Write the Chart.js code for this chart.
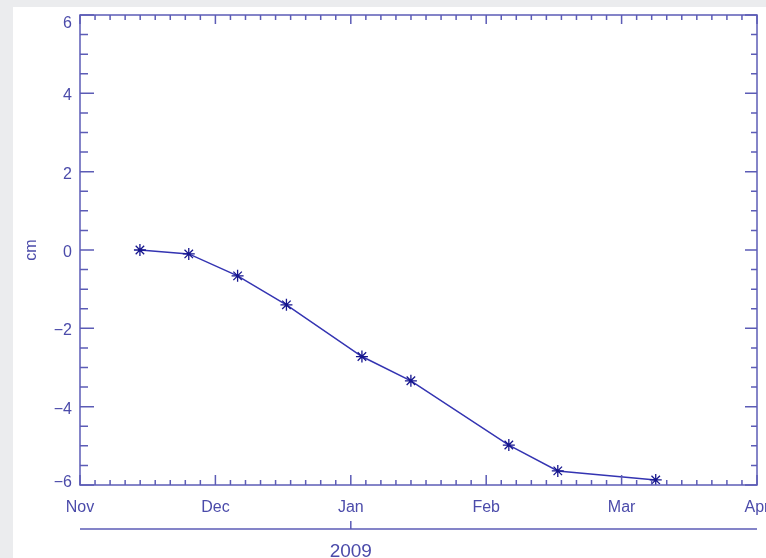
<!DOCTYPE html>
<html>
<head>
<meta charset="utf-8">
<script src="https://cdn.jsdelivr.net/npm/chart.js@4/dist/chart.umd.min.js"></script>
<style>
  html, body { margin: 0; padding: 0; background: #ebecee; width: 766px; height: 558px; overflow: hidden; }
  #frame { position: absolute; left: 13px; top: 7px; width: 753px; height: 551px; background: #ffffff; }
  canvas { display: block; }
</style>
</head>
<body>
<div id="frame"><canvas id="chart" width="753" height="551"></canvas></div>
<script>
// Observation dates and cumulative displacement (cm)
const obsDates = ['2008-11-14', '2008-11-25', '2008-12-06', '2008-12-17', '2009-01-03',
                  '2009-01-14', '2009-02-05', '2009-02-16', '2009-03-10'];
const displacementCm = [0.0, -0.10, -0.66, -1.40, -2.72, -3.34, -4.98, -5.64, -5.87];

// Axis ticks
const monthTicks = ['2008-11', '2008-12', '2009-01', '2009-02', '2009-03', '2009-04'];
const monthLabels = ['Nov', 'Dec', 'Jan', 'Feb', 'Mar', 'Apr'];
const yearTicks = [2009];
const yearLabels = ['2009'];
const yTicks = [-6, -4, -2, 0, 2, 4, 6];

const AXIS_COLOR = '#5c5cb6';
const TEXT_COLOR = '#4b4baa';
const LINE_COLOR = '#3434b2';
const MARK_COLOR = '#16168e';
const FONT = '"Liberation Sans", Arial, sans-serif';

// Decimal year, taking each date at midday
function decYear(s) {
  const [y, m, d] = s.split('-').map(Number);
  const start = Date.UTC(y, 0, 1);
  const len = (Date.UTC(y + 1, 0, 1) - start) / 864e5;
  const doy = (Date.UTC(y, m - 1, d) - start) / 864e5;
  return y + (doy + 0.5) / len;
}
function monthValue(s) {
  const [y, m] = s.split('-').map(Number);
  return y + (m - 1) / 12;
}

const monthVals = monthTicks.map(monthValue);
const points = obsDates.map((d, i) => ({ x: decYear(d), y: displacementCm[i] }));

function noScalePadding(s) {
  s.paddingLeft = 0; s.paddingRight = 0; s.paddingTop = 0; s.paddingBottom = 0;
}

// Keep the end labels of the value axis inside the frame
const labelNudge = {
  id: 'labelNudge',
  beforeDraw(chart) {
    const ys = chart.scales.y;
    if (ys._nudged) return;
    const items = ys.getLabelItems();
    const last = items.length - 1;
    items.forEach((it, i) => {
      const t = it.options.translation;
      const top = ys.getPixelForValue(yTicks[yTicks.length - 1]);
      const bottom = ys.getPixelForValue(yTicks[0]);
      if (Math.abs(t[1] - top) < 1) t[1] += 9;
      else if (Math.abs(t[1] - bottom) < 1) t[1] -= 2;
      else t[1] += 2.5;
    });
    ys._nudged = true;
  }
};

// Inward tick marks on all four sides, the plot frame and the year axis underneath
const frameTicks = {
  id: 'frameTicks',
  afterDraw(chart) {
    const ctx = chart.ctx, a = chart.chartArea;
    const xs = chart.scales.x, ys = chart.scales.y;
    ctx.save();
    ctx.strokeStyle = AXIS_COLOR;
    ctx.lineWidth = 1.5;
    ctx.beginPath();
    // x ticks: 9 subdivisions per month
    const step = 1 / 12 / 9;
    for (let i = 0; i < monthVals.length; i++) {
      const px = xs.getPixelForValue(monthVals[i]);
      ctx.moveTo(px, a.bottom); ctx.lineTo(px, a.bottom - 10);
      ctx.moveTo(px, a.top); ctx.lineTo(px, a.top + 9);
      if (i < monthVals.length - 1) {
        for (let k = 1; k < 9; k++) {
          const mx = xs.getPixelForValue(monthVals[i] + k * step);
          ctx.moveTo(mx, a.bottom); ctx.lineTo(mx, a.bottom - 5);
          ctx.moveTo(mx, a.top); ctx.lineTo(mx, a.top + 5);
        }
      }
    }
    // y ticks: majors every 2, minors every 0.5
    for (let v = ys.min; v <= ys.max + 1e-9; v += 0.5) {
      const py = ys.getPixelForValue(v);
      const major = Math.abs(v % 2) < 1e-9;
      ctx.moveTo(a.left, py); ctx.lineTo(a.left + (major ? 14 : 8), py);
      ctx.moveTo(a.right, py); ctx.lineTo(a.right - (major ? 12 : 6), py);
    }
    ctx.stroke();
    ctx.strokeRect(a.left, a.top, a.right - a.left, a.bottom - a.top);

    // year axis
    const yLine = a.bottom + 44;
    ctx.beginPath();
    ctx.moveTo(a.left, yLine); ctx.lineTo(a.right, yLine);
    yearTicks.forEach(yr => {
      const px = xs.getPixelForValue(yr);
      ctx.moveTo(px, yLine); ctx.lineTo(px, yLine - 8);
    });
    ctx.stroke();
    ctx.fillStyle = TEXT_COLOR;
    ctx.font = '19px ' + FONT;
    ctx.textAlign = 'center';
    ctx.textBaseline = 'middle';
    yearTicks.forEach((yr, i) => {
      ctx.fillText(yearLabels[i], xs.getPixelForValue(yr), yLine + 23);
    });
    ctx.restore();
  }
};

new Chart(document.getElementById('chart'), {
  type: 'scatter',
  data: {
    datasets: [{
      data: points,
      showLine: true,
      tension: 0,
      borderColor: LINE_COLOR,
      borderWidth: 1.5,
      pointStyle: 'star',
      pointRadius: 6,
      pointBorderColor: MARK_COLOR,
      pointBackgroundColor: MARK_COLOR,
      pointBorderWidth: 1.3
    }]
  },
  options: {
    responsive: false,
    animation: false,
    events: [],
    layout: { padding: { left: 0, top: 8, right: 9, bottom: 0 }, autoPadding: false },
    plugins: { legend: { display: false }, tooltip: { enabled: false } },
    scales: {
      x: {
        type: 'linear',
        min: monthVals[0],
        max: monthVals[monthVals.length - 1],
        grid: { display: false },
        border: { display: false },
        afterBuildTicks: s => { s.ticks = monthVals.map(v => ({ value: v })); },
        afterFit: s => { s.height = 73; noScalePadding(s); },
        ticks: {
          autoSkip: false,
          maxRotation: 0,
          padding: 5,
          color: TEXT_COLOR,
          font: { family: FONT, size: 16 },
          callback: (v, i) => monthLabels[i]
        }
      },
      y: {
        min: -6,
        max: 6,
        grid: { display: false },
        border: { display: false },
        afterBuildTicks: s => { s.ticks = yTicks.map(v => ({ value: v })); },
        afterFit: s => { s.width = 67; noScalePadding(s); },
        ticks: {
          padding: 0,
          color: TEXT_COLOR,
          font: { family: FONT, size: 16 },
          callback: v => (v < 0 ? '\u2212' + Math.abs(v) : String(v))
        },
        title: {
          display: true,
          text: 'cm',
          color: TEXT_COLOR,
          font: { family: FONT, size: 16 },
          padding: { top: 9, bottom: 0 }
        }
      }
    }
  },
  plugins: [labelNudge, frameTicks]
});
</script>
</body>
</html>
